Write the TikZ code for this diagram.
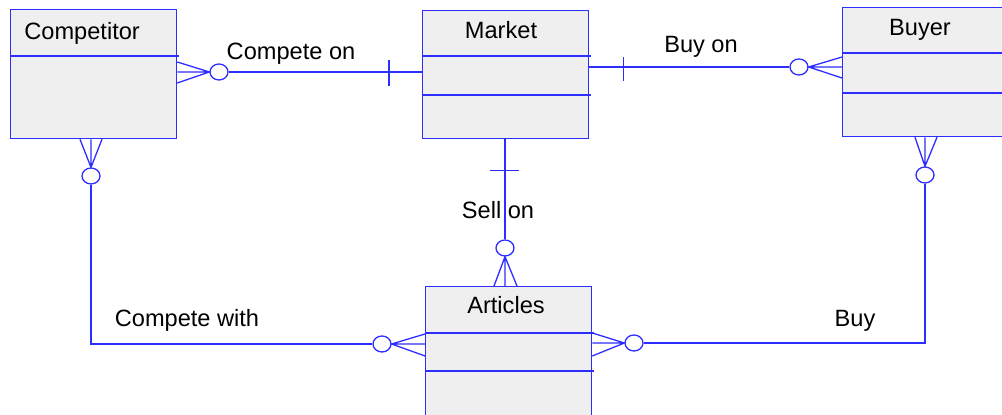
\documentclass[tikz,border=0pt]{standalone}
\usepackage{fontspec}
\setmainfont{Liberation Sans}
\usetikzlibrary{positioning, shapes.geometric, calc}

\definecolor{erblue}{RGB}{45,45,255}
\definecolor{erfill}{RGB}{239,239,239}

\tikzset{
  entity/.style={draw=erblue, fill=erfill, line width=0.65pt, anchor=north west, inner sep=0pt},
  rel/.style={draw=erblue, line width=0.65pt},
  zero/.style={ellipse, draw=erblue, line width=0.65pt, minimum width=9pt, minimum height=8pt, inner sep=0pt},
  lbl/.style={font=\fontsize{11.8}{14}\selectfont, inner sep=0pt, anchor=base},
}

\begin{document}
\begin{tikzpicture}[x=0.5pt, y=-0.5pt]
            \useasboundingbox (0,0) rectangle (1002,415);

            \node[entity, minimum width=83pt, minimum height=64.5pt] (comp) at (10,9) {};
            \node[entity, minimum width=83pt, minimum height=64pt] (mkt) at (422,10) {};
            \node[entity, minimum width=85pt, minimum height=64.5pt] (buyer) at (842,7) {};
            \node[entity, minimum width=83pt, minimum height=70pt] (art) at (425,286) {};

            \draw[rel] (comp.west |- 0,56) -- ++(169,0);
            \draw[rel] (mkt.west |- 0,56) -- ++(169,0);
            \draw[rel] (mkt.west |- 0,95) -- ++(169,0);
            \draw[rel] (buyer.west |- 0,53) -- ++(170,0);
            \draw[rel] (buyer.west |- 0,93) -- ++(170,0);
            \draw[rel] (art.west |- 0,333) -- ++(169,0);
            \draw[rel] (art.west |- 0,371) -- ++(169,0);

            \node[lbl, anchor=base west] (compT) at (24,40) {Competitor};
            \node[lbl] (mktT) at (501,39) {Market};
            \node[lbl] (buyerT) at (920,36) {Buyer};
            \node[lbl] (artT) at (506,314) {Articles};

            % Compete on
            \node[zero] (z1) at (219,72) {};
            \draw[rel] (z1) -- (mkt.west |- z1);
            \draw[rel] ($(mkt.west |- z1)+(-33,-12)$) -- ++(0,26);
            \draw[rel] (comp.east |- 0,62) -- (z1.west) -- (comp.east |- 0,83)
                       (z1.west) -- (comp.east |- z1);
            \node[lbl] (l1) at (291,60) {Compete on};

            % Buy on
            \node[zero] (z2) at (799,67) {};
            \draw[rel] (mkt.east |- z2) -- (z2);
            \draw[rel] ($(mkt.east |- z2)+(34,-10)$) -- ++(0,24);
            \draw[rel] (buyer.west |- 0,57) -- (z2.east) -- (buyer.west |- 0,78)
                       (z2.east) -- (buyer.west |- z2);
            \node[lbl] (l2) at (701,53) {Buy on};

            % Sell on
            \node[zero] (z3) at (505,248) {};
            \draw[rel] (mkt.south -| z3) -- (z3);
            \draw[rel] ($(mkt.south -| z3)+(-15,31)$) -- ++(29,0);
            \draw[rel] (art.north -| 494,0) -- (z3.south) -- (art.north -| 517,0)
                       (z3.south) -- (art.north -| z3);
            \node[lbl] (l3) at (498,219) {Sell on};

            % Compete with
            \node[zero] (z4) at (91,176) {};
            \node[zero] (z5) at (382,344) {};
            \draw[rel] (comp.south -| 80,0) -- (z4.north) -- (comp.south -| 102,0)
                       (z4.north) -- (comp.south -| z4);
            \draw[rel] (z4) |- (z5);
            \draw[rel] (art.west |- 0,334) -- (z5.east) -- (art.west |- 0,356)
                       (z5.east) -- (art.west |- z5);
            \node[lbl] (l4) at (187,327) {Compete with};

            % Buy
            \node[zero] (z6) at (925,175) {};
            \node[zero] (z7) at (634,343) {};
            \draw[rel] (buyer.south -| 915,0) -- (z6.north) -- (buyer.south -| 937,0)
                       (z6.north) -- (buyer.south -| z6);
            \draw[rel] (z6) |- (z7);
            \draw[rel] (art.east |- 0,333) -- (z7.west) -- (art.east |- 0,356)
                       (z7.west) -- (art.east |- z7);
            \node[lbl] (l5) at (855,327) {Buy};
\end{tikzpicture}
\end{document}
